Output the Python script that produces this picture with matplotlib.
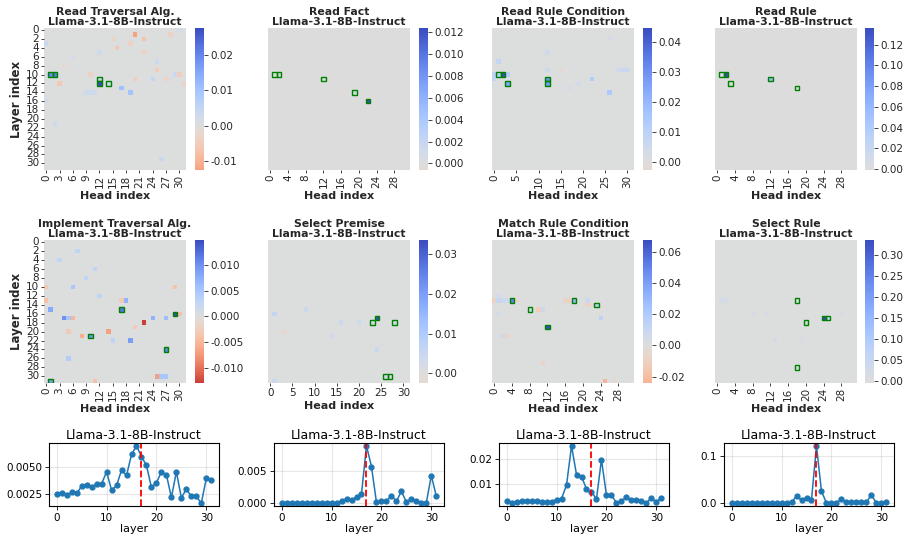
import numpy as np
import matplotlib.pyplot as plt
import seaborn as sns
from matplotlib.patches import Rectangle

N_LAYERS = 32
N_HEADS = 32
layers = list(range(N_LAYERS))

titles = ["Read Traversal Alg.", "Read Fact", "Read Rule Condition", "Read Rule",
          "Implement Traversal Alg.", "Select Premise", "Match Rule Condition", "Select Rule"]
model = "Llama-3.1-8B-Instruct"

# heatmap cells (layer, head, value); cells not listed are ~0
read_trav_cells = [(10, 1, 0.020), (10, 2, 0.021), (11, 12, 0.004), (12, 12, 0.0277), (12, 14, 0.003),
                   (13, 17, 0.011), (14, 19, 0.010), (1, 20, -0.0126), (2, 22, -0.007), (4, 16, -0.006),
                   (12, 3, -0.006), (9, 25, -0.005), (11, 20, -0.005), (11, 27, -0.004), (10, 30, -0.005),
                   (10, 29, 0.004), (11, 24, 0.005), (7, 25, 0.003), (3, 0, 0.004), (5, 12, 0.003),
                   (5, 22, -0.004), (14, 9, 0.003), (14, 10, 0.003), (14, 11, 0.003), (29, 26, 0.004),
                   (1, 28, -0.004), (2, 15, -0.004), (10, 10, -0.004), (12, 31, -0.003), (3, 19, -0.004),
                   (21, 2, 0.003), (0, 30, 0.002), (16, 0, 0.002), (6, 6, 0.002), (8, 4, -0.002)]
read_trav_boxes = [(10, 1), (10, 2), (11, 12), (12, 12), (12, 14)]

read_fact_cells = [(10, 1, 0.0005), (10, 2, 0.0005), (11, 12, 0.0005), (14, 19, 0.0005),
                   (16, 22, 0.0124), (14, 16, -0.0006)]
read_fact_boxes = [(10, 1), (10, 2), (11, 12), (14, 19), (16, 22)]

read_cond_cells = [(10, 1, 0.012), (10, 2, 0.0448), (11, 12, 0.030), (12, 12, 0.028), (12, 3, 0.025),
                   (10, 0, 0.010), (10, 3, 0.012), (11, 0, 0.008), (11, 22, 0.013), (14, 26, 0.014),
                   (7, 1, 0.008), (9, 28, 0.005), (9, 29, 0.006), (9, 30, 0.006), (9, 12, 0.005),
                   (9, 15, -0.0028), (5, 12, 0.004), (12, 19, 0.003), (13, 17, 0.003), (2, 26, 0.003)]
read_cond_boxes = [(10, 1), (10, 2), (12, 3), (11, 12), (12, 12)]

read_rule_cells = [(10, 1, 0.003), (10, 2, 0.136), (12, 3, 0.003), (11, 12, 0.060), (13, 18, 0.003),
                   (20, 5, -0.0007)]
read_rule_boxes = [(10, 1), (10, 2), (12, 3), (11, 12), (13, 18)]

impl_trav_cells = [(15, 17, 0.012), (16, 29, 0.0149), (21, 10, 0.010), (24, 27, 0.011), (31, 1, 0.009),
                   (18, 22, -0.013), (20, 14, -0.007), (21, 8, -0.006), (30, 25, -0.007), (17, 6, -0.005),
                   (17, 4, 0.010), (17, 5, 0.005), (22, 19, 0.009), (15, 1, 0.008), (17, 24, 0.007),
                   (17, 27, 0.006), (16, 30, -0.004), (13, 18, 0.007), (13, 0, -0.004), (13, 17, -0.003),
                   (10, 6, 0.005), (30, 26, 0.005), (30, 27, 0.005), (26, 5, 0.004), (10, 29, -0.004),
                   (20, 5, -0.003), (10, 0, -0.003), (22, 15, 0.003), (4, 3, 0.003), (12, 12, 0.003),
                   (31, 11, -0.004), (8, 9, 0.003), (19, 20, -0.003), (6, 11, 0.003), (2, 7, 0.003)]
impl_trav_boxes = [(15, 17), (16, 29), (21, 10), (24, 27), (31, 1)]

sel_prem_cells = [(17, 24, 0.0336), (18, 23, 0.002), (18, 28, 0.002), (30, 26, 0.002), (30, 27, 0.002),
                  (16, 1, 0.006), (15, 8, 0.004), (18, 16, 0.004), (18, 20, 0.004), (24, 24, 0.005),
                  (31, 1, 0.004), (21, 14, 0.003), (20, 3, -0.0024)]
sel_prem_boxes = [(17, 24), (18, 23), (18, 28), (30, 26), (30, 27)]

match_cond_cells = [(13, 4, 0.050), (15, 8, 0.008), (13, 18, 0.030), (14, 23, 0.015), (19, 12, 0.0675),
                    (13, 0, -0.010), (13, 1, 0.010), (13, 2, 0.008), (13, 3, 0.008), (13, 5, -0.005),
                    (13, 16, -0.008), (13, 17, -0.010), (13, 21, 0.008), (15, 10, -0.012), (15, 11, 0.008),
                    (14, 21, -0.008), (14, 22, -0.006), (17, 24, 0.015), (21, 2, 0.008), (21, 3, -0.008),
                    (27, 11, -0.010), (31, 25, -0.024), (31, 27, -0.005), (12, 1, 0.006), (16, 1, 0.005)]
match_cond_boxes = [(13, 4), (15, 8), (13, 18), (14, 23), (19, 12)]

sel_rule_cells = [(13, 18, 0.005), (18, 20, 0.010), (17, 24, 0.336), (17, 25, 0.050), (28, 18, 0.005),
                  (13, 1, 0.020), (13, 2, 0.020), (16, 8, 0.020), (16, 11, 0.015), (16, 28, 0.015),
                  (22, 13, 0.020), (22, 19, 0.012), (5, 10, -0.004)]
sel_rule_boxes = [(13, 18), (18, 20), (17, 24), (17, 25), (28, 18)]

cells_all = [read_trav_cells, read_fact_cells, read_cond_cells, read_rule_cells,
             impl_trav_cells, sel_prem_cells, match_cond_cells, sel_rule_cells]
boxes_all = [read_trav_boxes, read_fact_boxes, read_cond_boxes, read_rule_boxes,
             impl_trav_boxes, sel_prem_boxes, match_cond_boxes, sel_rule_boxes]
xtick_step = [3, 4, 5, 4, 3, 5, 4, 4]
xtick_rot = [90, 90, 90, 90, 90, 0, 90, 90]
cbar_ticks = [[-0.01, 0.0, 0.01, 0.02],
              [0.0, 0.002, 0.004, 0.006, 0.008, 0.010, 0.012],
              [0.0, 0.01, 0.02, 0.03, 0.04],
              [0.0, 0.02, 0.04, 0.06, 0.08, 0.10, 0.12],
              [-0.010, -0.005, 0.0, 0.005, 0.010],
              [0.0, 0.01, 0.02, 0.03],
              [-0.02, 0.0, 0.02, 0.04, 0.06],
              [0.0, 0.05, 0.10, 0.15, 0.20, 0.25, 0.30]]
cbar_fmt = ["%.2f", "%.3f", "%.2f", "%.2f", "%.3f", "%.2f", "%.2f", "%.2f"]

# per-layer mean scores (bottom row)
line_read_trav = [0.00245, 0.00256, 0.00238, 0.00262, 0.00253, 0.00322, 0.00337, 0.00312,
                  0.00344, 0.00344, 0.00456, 0.00284, 0.00328, 0.00472, 0.00422, 0.00619,
                  0.00700, 0.00600, 0.00516, 0.00309, 0.00353, 0.00456, 0.00428, 0.00216,
                  0.00456, 0.00212, 0.00294, 0.00225, 0.00225, 0.00162, 0.00394, 0.00375]
line_read_fact = [0.00002, 0.00002, 0.00002, 0.00002, 0.00002, 0.00002, 0.00002, 0.00002,
                  0.00002, 0.00002, 0.00003, 0.00005, 0.0003, 0.0007, 0.0005, 0.0010,
                  0.00144, 0.0089, 0.0057, 0.00015, 0.00036, 0.0003, 0.0012, 0.0003,
                  0.00186, 0.0002, 0.0007, 0.00036, 0.0001, 0.00005, 0.0043, 0.00113]
line_read_cond = [0.0031, 0.0025, 0.0029, 0.0031, 0.0031, 0.0031, 0.0031, 0.0027,
                  0.0029, 0.0029, 0.0037, 0.0041, 0.0096, 0.0251, 0.0136, 0.0129,
                  0.0079, 0.0067, 0.0040, 0.0196, 0.0056, 0.0055, 0.0025, 0.0031,
                  0.0047, 0.0036, 0.0037, 0.0033, 0.0023, 0.0044, 0.0028, 0.0044]
line_read_rule = [0.0004, 0.0004, 0.0004, 0.0004, 0.0004, 0.0004, 0.0004, 0.0004,
                  0.0004, 0.0004, 0.0004, 0.0005, 0.0020, 0.0156, 0.0070, 0.0120,
                  0.0080, 0.1220, 0.0255, 0.0010, 0.0010, 0.0015, 0.0090, 0.0020,
                  0.0020, 0.0020, 0.0020, 0.0020, 0.0180, 0.0010, 0.0010, 0.0035]
lines_all = [line_read_trav, line_read_fact, line_read_cond, line_read_rule]
line_yticks = [[0.0025, 0.0050], [0.000, 0.005], [0.01, 0.02], [0.0, 0.1]]
line_fmt = ["%.4f", "%.3f", "%.2f", "%.1f"]
best_layer = 17

W, H = 910, 543


def px_rect(x0, y0, x1, y1):
    return [x0 / W, 1 - y1 / H, (x1 - x0) / W, (y1 - y0) / H]


fig = plt.figure(figsize=(W / 100, H / 100), dpi=100)
txt = "#262626"

col_x = [44, 268, 492, 715]
cbar_x = [195, 419, 643, 865]
row_y = [(28, 170), (240, 383)]

for i in range(8):
    r, c = divmod(i, 4)
    y0, y1 = row_y[r]
    ax = fig.add_axes(px_rect(col_x[c], y0, col_x[c] + 142, y1))
    cax = fig.add_axes(px_rect(cbar_x[c], y0, cbar_x[c] + 9, y1))

    mat = np.zeros((N_LAYERS, N_HEADS))
    for l, h, v in cells_all[i]:
        mat[l, h] = v

    sns.heatmap(mat, ax=ax, cbar_ax=cax, cmap="coolwarm_r", center=0)
    for l, h in boxes_all[i]:
        ax.add_patch(Rectangle((h, l), 1, 1, fill=False, edgecolor="green", lw=1.0))

    ax.set_title(f"{titles[i]}\n{model}", fontsize=7.8, fontweight="bold", color=txt,
                 linespacing=1.0, pad=2)
    step = xtick_step[i]
    xt = list(range(0, N_HEADS, step))
    ax.set_xticks([t + 0.5 for t in xt])
    ax.set_xticklabels([str(t) for t in xt], rotation=xtick_rot[i], fontsize=7.5, color=txt)
    ax.set_xlabel("Head index", fontsize=8, fontweight="bold", color=txt, labelpad=2)
    if c == 0:
        yt = list(range(0, N_LAYERS, 2))
        ax.set_yticks([t + 0.5 for t in yt])
        ax.set_yticklabels([str(t) for t in yt], rotation=0, fontsize=7.5, color=txt)
        ax.set_ylabel("Layer index", fontsize=8.5, fontweight="bold", color=txt, labelpad=2)
    else:
        ax.set_yticks([])
    ax.tick_params(length=2, width=0.6, pad=1.5, colors=txt)

    cax.set_yticks(cbar_ticks[i])
    cax.set_yticklabels([cbar_fmt[i] % t for t in cbar_ticks[i]], fontsize=7.5, color=txt)
    cax.tick_params(length=3, width=0.6, pad=1.5, colors=txt)

line_x = [49, 274, 499, 724]
for j in range(4):
    ax = fig.add_axes(px_rect(line_x[j], 443, line_x[j] + 170, 506))
    ax.plot(layers, lines_all[j], marker="o", markersize=3.5, lw=1.1, color="#1f77b4")
    ax.axvline(best_layer, color="red", linestyle="--", lw=1.3)
    ax.grid(True, alpha=0.3)
    ax.set_xticks([0, 10, 20, 30])
    ax.set_yticks(line_yticks[j])
    ax.set_yticklabels([line_fmt[j] % t for t in line_yticks[j]])
    ax.tick_params(labelsize=7.5, length=3, width=0.6, pad=2)
    ax.set_xlabel("layer", fontsize=8, labelpad=1)
    ax.set_title(model, fontsize=9, pad=3)
    for s in ax.spines.values():
        s.set_linewidth(0.8)

fig.savefig("out.png", dpi=100)
